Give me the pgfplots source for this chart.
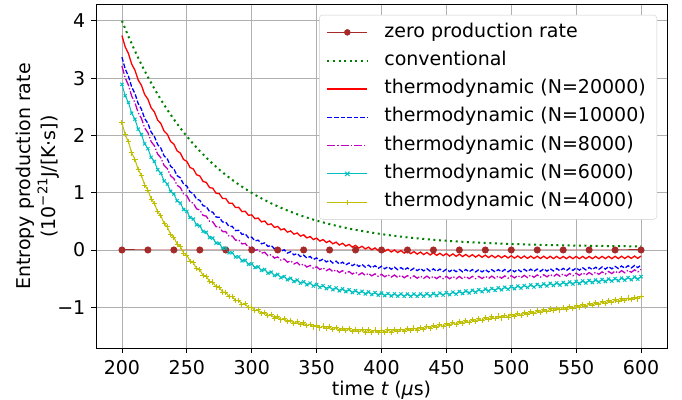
\documentclass[border=0pt]{standalone}
\usepackage{pgfplots}
\pgfplotsset{compat=1.18}
\usepackage{pgfplotstable}
\usepackage{fontspec}
\setmainfont{DejaVu Sans}
\definecolor{zbrown}{HTML}{A52A2A}
\definecolor{mgreen}{HTML}{008000}
\definecolor{thred}{HTML}{FF0000}
\definecolor{thblue}{HTML}{0000FF}
\definecolor{thmag}{HTML}{BF00BF}
\definecolor{mcyan}{HTML}{00BFBF}
\definecolor{myel}{HTML}{BFBF00}
\definecolor{gridgray}{HTML}{B0B0B0}
\definecolor{legedge}{HTML}{CCCCCC}
\tikzset{legrule/.style={inner sep=0pt, outer sep=0pt, anchor=west, text height=0.6pt, text depth=0.6pt}}

\pgfplotstableread{
t g
200 4.000
205 3.728
210 3.474
215 3.238
220 3.018
225 2.814
230 2.623
235 2.446
240 2.281
245 2.127
250 1.984
255 1.850
260 1.726
265 1.611
270 1.503
275 1.403
280 1.310
285 1.223
290 1.142
295 1.067
300 0.997
305 0.931
310 0.871
315 0.814
320 0.761
325 0.712
330 0.667
335 0.624
340 0.585
345 0.548
350 0.513
355 0.481
360 0.452
365 0.424
370 0.398
375 0.374
380 0.352
385 0.331
390 0.312
395 0.294
400 0.277
405 0.261
410 0.247
415 0.233
420 0.220
425 0.209
430 0.198
435 0.188
440 0.178
445 0.169
450 0.161
455 0.153
460 0.146
465 0.140
470 0.133
475 0.128
480 0.122
485 0.117
490 0.113
495 0.108
500 0.104
505 0.101
510 0.097
515 0.094
520 0.091
525 0.088
530 0.085
535 0.083
540 0.081
545 0.079
550 0.077
555 0.075
560 0.073
565 0.071
570 0.070
575 0.069
580 0.067
585 0.066
590 0.065
595 0.064
600 0.063
}\conv

\pgfplotstableread{
t r b m c y
200 3.742 3.365 3.210 2.890 2.220
202.5 3.545 3.160 3.004 2.692 2.014
205 3.428 3.034 2.877 2.573 1.887
207.5 3.244 2.844 2.685 2.388 1.694
210 3.139 2.733 2.573 2.282 1.581
212.5 2.967 2.556 2.395 2.109 1.402
215 2.875 2.459 2.297 2.015 1.302
217.5 2.714 2.295 2.132 1.852 1.134
220 2.632 2.210 2.046 1.769 1.046
222.5 2.481 2.057 1.892 1.617 0.889
225 2.410 1.983 1.818 1.545 0.812
227.5 2.268 1.840 1.674 1.402 0.665
230 2.206 1.776 1.609 1.339 0.598
232.5 2.073 1.642 1.475 1.205 0.460
235 2.019 1.587 1.420 1.150 0.402
237.5 1.894 1.461 1.294 1.024 0.273
240 1.848 1.415 1.247 0.977 0.224
242.5 1.730 1.297 1.129 0.858 0.103
245 1.691 1.259 1.090 0.818 0.061
247.5 1.579 1.148 0.979 0.706 -0.054
250 1.546 1.116 0.947 0.673 -0.088
252.5 1.440 1.011 0.842 0.567 -0.196
255 1.414 0.986 0.817 0.540 -0.223
257.5 1.313 0.887 0.718 0.440 -0.325
260 1.292 0.867 0.698 0.419 -0.347
262.5 1.196 0.773 0.604 0.324 -0.443
265 1.180 0.759 0.590 0.308 -0.459
267.5 1.089 0.670 0.501 0.218 -0.550
270 1.078 0.660 0.492 0.207 -0.560
272.5 0.991 0.575 0.407 0.121 -0.646
275 0.983 0.570 0.402 0.114 -0.652
277.5 0.900 0.489 0.321 0.032 -0.734
280 0.897 0.487 0.320 0.030 -0.736
282.5 0.817 0.410 0.243 -0.049 -0.814
285 0.817 0.412 0.245 -0.048 -0.811
287.5 0.741 0.338 0.171 -0.123 -0.885
290 0.744 0.344 0.177 -0.118 -0.879
292.5 0.670 0.273 0.106 -0.190 -0.950
295 0.676 0.281 0.115 -0.181 -0.941
297.5 0.605 0.213 0.047 -0.251 -1.009
300 0.614 0.224 0.059 -0.240 -0.996
302.5 0.546 0.158 -0.007 -0.307 -1.061
305 0.557 0.171 0.007 -0.294 -1.046
307.5 0.491 0.108 -0.057 -0.358 -1.108
310 0.505 0.124 -0.040 -0.342 -1.090
312.5 0.441 0.062 -0.101 -0.404 -1.150
315 0.456 0.080 -0.082 -0.386 -1.130
317.5 0.394 0.020 -0.142 -0.446 -1.188
320 0.411 0.040 -0.121 -0.426 -1.166
322.5 0.351 -0.019 -0.179 -0.484 -1.222
325 0.370 0.003 -0.157 -0.462 -1.197
327.5 0.311 -0.054 -0.213 -0.519 -1.252
330 0.332 -0.030 -0.189 -0.495 -1.226
332.5 0.275 -0.086 -0.244 -0.550 -1.279
335 0.297 -0.061 -0.218 -0.525 -1.251
337.5 0.241 -0.115 -0.272 -0.579 -1.302
340 0.265 -0.089 -0.245 -0.553 -1.273
342.5 0.210 -0.142 -0.298 -0.606 -1.324
345 0.235 -0.114 -0.270 -0.579 -1.294
347.5 0.182 -0.166 -0.321 -0.631 -1.343
350 0.208 -0.138 -0.292 -0.602 -1.312
352.5 0.155 -0.189 -0.342 -0.653 -1.360
355 0.182 -0.159 -0.312 -0.623 -1.328
357.5 0.130 -0.209 -0.361 -0.673 -1.375
360 0.158 -0.178 -0.330 -0.643 -1.342
362.5 0.108 -0.227 -0.378 -0.693 -1.389
365 0.137 -0.196 -0.346 -0.662 -1.355
367.5 0.087 -0.245 -0.394 -0.711 -1.401
370 0.117 -0.213 -0.361 -0.679 -1.366
372.5 0.068 -0.260 -0.408 -0.727 -1.411
375 0.098 -0.227 -0.375 -0.694 -1.376
377.5 0.050 -0.274 -0.421 -0.742 -1.420
380 0.081 -0.241 -0.387 -0.709 -1.384
382.5 0.033 -0.287 -0.433 -0.755 -1.428
385 0.065 -0.253 -0.398 -0.721 -1.391
387.5 0.018 -0.299 -0.443 -0.767 -1.433
390 0.050 -0.265 -0.408 -0.733 -1.395
392.5 0.003 -0.310 -0.452 -0.778 -1.436
395 0.036 -0.275 -0.416 -0.743 -1.397
397.5 -0.011 -0.320 -0.460 -0.788 -1.437
400 0.023 -0.284 -0.424 -0.752 -1.397
402.5 -0.023 -0.328 -0.468 -0.796 -1.436
405 0.011 -0.292 -0.431 -0.759 -1.395
407.5 -0.035 -0.336 -0.474 -0.802 -1.433
410 0.000 -0.300 -0.437 -0.764 -1.390
412.5 -0.045 -0.344 -0.480 -0.806 -1.427
415 -0.010 -0.307 -0.442 -0.767 -1.383
417.5 -0.055 -0.350 -0.485 -0.808 -1.419
420 -0.019 -0.312 -0.447 -0.769 -1.374
422.5 -0.064 -0.355 -0.489 -0.809 -1.409
425 -0.028 -0.318 -0.451 -0.769 -1.363
427.5 -0.072 -0.361 -0.493 -0.808 -1.397
430 -0.036 -0.323 -0.454 -0.767 -1.350
432.5 -0.080 -0.365 -0.495 -0.806 -1.383
435 -0.043 -0.327 -0.456 -0.764 -1.335
437.5 -0.087 -0.369 -0.498 -0.802 -1.368
440 -0.050 -0.330 -0.459 -0.759 -1.320
442.5 -0.094 -0.372 -0.500 -0.796 -1.352
445 -0.057 -0.333 -0.460 -0.752 -1.304
447.5 -0.100 -0.375 -0.501 -0.788 -1.336
450 -0.063 -0.336 -0.461 -0.744 -1.287
452.5 -0.106 -0.377 -0.502 -0.780 -1.318
455 -0.068 -0.338 -0.462 -0.735 -1.269
457.5 -0.111 -0.379 -0.502 -0.770 -1.301
460 -0.073 -0.340 -0.462 -0.725 -1.252
462.5 -0.116 -0.381 -0.502 -0.760 -1.284
465 -0.078 -0.341 -0.461 -0.715 -1.235
467.5 -0.120 -0.382 -0.501 -0.750 -1.267
470 -0.082 -0.342 -0.461 -0.704 -1.218
472.5 -0.124 -0.383 -0.501 -0.739 -1.250
475 -0.086 -0.343 -0.460 -0.693 -1.201
477.5 -0.128 -0.383 -0.499 -0.728 -1.233
480 -0.090 -0.343 -0.458 -0.682 -1.185
482.5 -0.132 -0.383 -0.497 -0.717 -1.217
485 -0.093 -0.343 -0.456 -0.671 -1.169
487.5 -0.135 -0.383 -0.495 -0.706 -1.201
490 -0.096 -0.342 -0.454 -0.660 -1.153
492.5 -0.137 -0.382 -0.493 -0.695 -1.186
495 -0.098 -0.341 -0.452 -0.650 -1.138
497.5 -0.140 -0.381 -0.491 -0.685 -1.170
500 -0.101 -0.340 -0.449 -0.639 -1.122
502.5 -0.142 -0.380 -0.488 -0.674 -1.155
505 -0.103 -0.339 -0.446 -0.629 -1.107
507.5 -0.144 -0.378 -0.485 -0.665 -1.140
510 -0.105 -0.337 -0.443 -0.620 -1.092
512.5 -0.146 -0.376 -0.481 -0.655 -1.124
515 -0.107 -0.335 -0.439 -0.610 -1.076
517.5 -0.148 -0.374 -0.477 -0.646 -1.109
520 -0.108 -0.333 -0.435 -0.601 -1.061
522.5 -0.149 -0.372 -0.473 -0.637 -1.093
525 -0.109 -0.330 -0.431 -0.592 -1.045
527.5 -0.150 -0.369 -0.469 -0.628 -1.078
530 -0.110 -0.327 -0.426 -0.583 -1.030
532.5 -0.151 -0.366 -0.464 -0.619 -1.063
535 -0.111 -0.324 -0.421 -0.575 -1.015
537.5 -0.152 -0.363 -0.459 -0.611 -1.047
540 -0.112 -0.321 -0.417 -0.566 -0.999
542.5 -0.152 -0.359 -0.454 -0.602 -1.032
545 -0.112 -0.317 -0.411 -0.558 -0.984
547.5 -0.152 -0.356 -0.449 -0.594 -1.016
550 -0.112 -0.314 -0.406 -0.549 -0.968
552.5 -0.152 -0.352 -0.443 -0.585 -1.000
555 -0.112 -0.310 -0.400 -0.540 -0.952
557.5 -0.152 -0.348 -0.437 -0.576 -0.984
560 -0.112 -0.305 -0.394 -0.532 -0.936
562.5 -0.152 -0.343 -0.431 -0.568 -0.968
565 -0.112 -0.301 -0.388 -0.524 -0.920
567.5 -0.152 -0.339 -0.425 -0.560 -0.952
570 -0.111 -0.296 -0.382 -0.515 -0.904
572.5 -0.151 -0.334 -0.419 -0.551 -0.936
575 -0.111 -0.291 -0.375 -0.507 -0.888
577.5 -0.151 -0.329 -0.412 -0.543 -0.920
580 -0.110 -0.286 -0.368 -0.499 -0.872
582.5 -0.150 -0.323 -0.405 -0.535 -0.904
585 -0.109 -0.280 -0.361 -0.490 -0.855
587.5 -0.149 -0.318 -0.398 -0.526 -0.887
590 -0.108 -0.275 -0.354 -0.482 -0.839
592.5 -0.147 -0.313 -0.390 -0.518 -0.871
595 -0.106 -0.270 -0.346 -0.473 -0.823
597.5 -0.146 -0.307 -0.382 -0.509 -0.855
600 -0.105 -0.264 -0.338 -0.465 -0.806
}\thermo

\begin{document}
\fontsize{19}{23}\selectfont
\begin{tikzpicture}
\useasboundingbox (-96pt,-50.7pt) rectangle (586pt,348.3pt);
\begin{axis}[
  at={(0pt,0pt)}, anchor=south west,
  scale only axis, width=571pt, height=343.6pt,
  xmin=180, xmax=620, ymin=-1.716, ymax=4.281,
  xtick={200,250,300,350,400,450,500,550,600},
  xticklabels={200,250,300,350,400,450,500,550,600},
  ytick={-1,0,1,2,3,4},
  yticklabels={−1,0,1,2,3,4},
  grid=major,
  major grid style={gridgray, line width=0.8pt},
  tick align=outside, tick pos=left,
  major tick length=4.5pt,
  tick style={black, line width=0.8pt},
  axis line style={black, line width=0.8pt},
  ticklabel style={font=\fontsize{19}{23}\selectfont},
  xticklabel style={anchor=north, inner sep=0pt, yshift=-7pt},
  yticklabel style={anchor=east, inner sep=0pt, xshift=-6pt},
  xlabel={time {\itshape t} ({\itshape μ}s)},
  ylabel={Entropy production rate\\(10\raisebox{0.42em}{\fontsize{13.3}{14}\selectfont −21}J/[K·s])},
  xlabel style={at={(axis description cs:0.5,0)}, anchor=north, inner sep=0pt, yshift=-33pt, font=\fontsize{19}{23}\selectfont},
  ylabel style={at={(axis description cs:-0.1025,0.5)}, anchor=center, align=center, font=\fontsize{19}{25}\selectfont},
  legend cell align=left,
  legend style={
    at={(axis description cs:1,1)}, anchor=north east, xshift=-10pt, yshift=-10.3pt,
    draw=legedge, fill=white, rounded corners=3pt,
    inner xsep=7pt, inner ysep=3pt,
    font=\fontsize{19}{23}\selectfont,
    nodes={inner xsep=4pt, inner ysep=4.85pt, text height=14pt, text depth=4.6pt, anchor=west},
    /tikz/every odd column/.style={column sep=12pt},
  },
]
\addplot[color=zbrown, line width=1pt, mark=*, mark size=3pt, mark options={solid, fill=zbrown, draw=zbrown}, forget plot]
  coordinates {(200,0) (220,0) (240,0) (260,0) (280,0) (300,0) (320,0) (340,0) (360,0) (380,0) (400,0)
  (420,0) (440,0) (460,0) (480,0) (500,0) (520,0) (540,0) (560,0) (580,0) (600,0)};
\addplot[color=mgreen, line width=2pt, dash pattern=on 2pt off 3.6pt, forget plot] table[x=t,y=g]{\conv};
\addplot[color=thred, line width=1.3pt, forget plot] table[x=t,y=r]{\thermo};
\addplot[color=thblue, line width=1.3pt, dash pattern=on 4.6pt off 2pt, forget plot] table[x=t,y=b]{\thermo};
\addplot[color=thmag, line width=1.3pt, dash pattern=on 8pt off 2pt on 1.3pt off 2pt, forget plot] table[x=t,y=m]{\thermo};
\addplot[color=mcyan, line width=1pt, mark=x, mark size=2.2pt, mark options={solid}, forget plot] table[x=t,y=c]{\thermo};
\addplot[color=myel, line width=1pt, mark=+, mark size=2.6pt, mark options={solid}, forget plot] table[x=t,y=y]{\thermo};
\addlegendimage{legend image code/.code={
  \node[legrule] at (0pt,0pt) {\textcolor{zbrown}{\rule[-0.5pt]{40pt}{1pt}}};
  \fill[zbrown] (20pt,0pt) circle[radius=3pt];}}
\addlegendentry{zero production rate}
\addlegendimage{legend image code/.code={
  \draw[mgreen, line width=2pt, dash pattern=on 2pt off 3.6pt] (0pt,0pt) -- (40pt,0pt);}}
\addlegendentry{conventional}
\addlegendimage{legend image code/.code={
  \node[legrule] at (0pt,0pt) {\textcolor{thred}{\rule[-0.65pt]{40pt}{1.3pt}}};}}
\addlegendentry{thermodynamic (N=20000)}
\addlegendimage{legend image code/.code={
  \node[legrule] at (0pt,0pt) {\textcolor{thblue}{%
  \rule[-0.65pt]{4.6pt}{1.3pt}\hspace{2pt}\rule[-0.65pt]{4.6pt}{1.3pt}\hspace{2pt}%
  \rule[-0.65pt]{4.6pt}{1.3pt}\hspace{2pt}\rule[-0.65pt]{4.6pt}{1.3pt}\hspace{2pt}%
  \rule[-0.65pt]{4.6pt}{1.3pt}\hspace{2pt}\rule[-0.65pt]{4.6pt}{1.3pt}\hspace{2pt}%
  \rule[-0.65pt]{0.4pt}{1.3pt}}};}}
\addlegendentry{thermodynamic (N=10000)}
\addlegendimage{legend image code/.code={
  \node[legrule] at (0pt,0pt) {\textcolor{thmag}{%
  \rule[-0.65pt]{8pt}{1.3pt}\hspace{2pt}\rule[-0.65pt]{1.3pt}{1.3pt}\hspace{2pt}%
  \rule[-0.65pt]{8pt}{1.3pt}\hspace{2pt}\rule[-0.65pt]{1.3pt}{1.3pt}\hspace{2pt}%
  \rule[-0.65pt]{8pt}{1.3pt}\hspace{2pt}\rule[-0.65pt]{1.3pt}{1.3pt}\hspace{2.1pt}}};}}
\addlegendentry{thermodynamic (N=8000)}
\addlegendimage{legend image code/.code={
  \node[legrule] at (0pt,0pt) {\textcolor{mcyan}{\rule[-0.5pt]{40pt}{1pt}}};
  \draw[mcyan, line width=1pt] (17.8pt,-2.2pt) -- (22.2pt,2.2pt) (17.8pt,2.2pt) -- (22.2pt,-2.2pt);}}
\addlegendentry{thermodynamic (N=6000)}
\addlegendimage{legend image code/.code={
  \node[legrule] at (0pt,0pt) {\textcolor{myel}{\rule[-0.5pt]{40pt}{1pt}}};
  \draw[myel, line width=1pt] (20pt,-2.6pt) -- (20pt,2.6pt);}}
\addlegendentry{thermodynamic (N=4000)}
\end{axis}
\end{tikzpicture}
\end{document}
